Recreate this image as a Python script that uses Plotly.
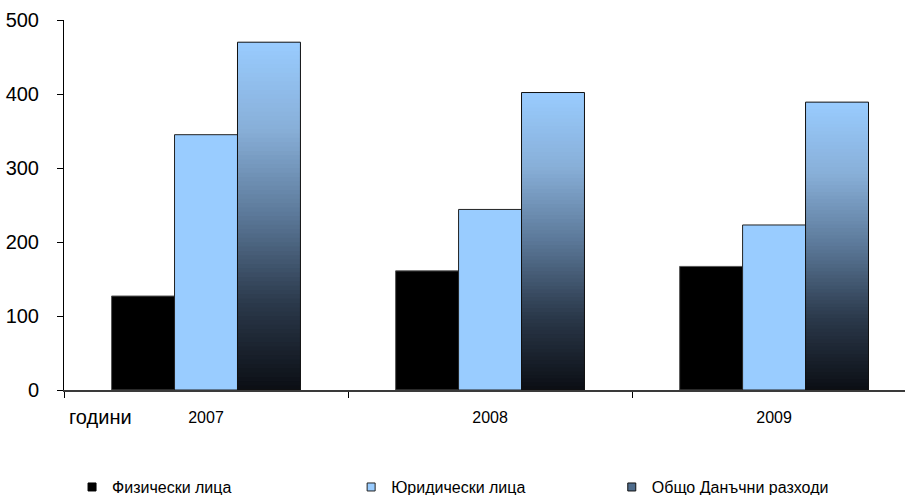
import plotly.graph_objects as go
from plotly.colors import sample_colorscale

# Data
years = ["2007", "2008", "2009"]
individuals = [127, 161, 167]       # Физически лица
companies = [345, 244, 223]         # Юридически лица
total = [470, 402, 389]             # Общо Данъчни разходи

series_names = ["Физически лица", "Юридически лица", "Общо Данъчни разходи"]
y_ticks = [0, 100, 200, 300, 400, 500]

FONT = "Liberation Sans, Arial, sans-serif"
LIGHT_BLUE = "#99CCFF"
GRAD_SCALE = [
    [0.0, "#0b0e14"],
    [0.25, "#2b394b"],
    [0.5, "#5b7898"],
    [0.75, "#88afd8"],
    [1.0, "#99CCFF"],
]
N_SEG = 80

fig = go.Figure()

fig.add_trace(go.Bar(
    x=years, y=individuals, offsetgroup="a", showlegend=False,
    marker=dict(color="#000000", line=dict(color="#555555", width=1)),
    hoverinfo="skip",
))
fig.add_trace(go.Bar(
    x=years, y=companies, offsetgroup="b", showlegend=False,
    marker=dict(color=LIGHT_BLUE, line=dict(color="#222222", width=1)),
    hoverinfo="skip",
))

# Vertical gradient for the total bars: overlapping stacked slices,
# each one twice as tall as its step so no seams show between them
seg_colors = sample_colorscale(GRAD_SCALE, [(i + 0.5) / N_SEG for i in range(N_SEG)])
for i in range(N_SEG):
    span = 2 if i < N_SEG - 1 else 1
    fig.add_trace(go.Bar(
        x=years,
        y=[v / N_SEG * span for v in total],
        base=[v * i / N_SEG for v in total],
        offsetgroup="c", showlegend=False,
        marker=dict(color=seg_colors[i], line=dict(width=0)),
        hoverinfo="skip",
    ))
# Outline on top of the gradient slices
fig.add_trace(go.Bar(
    x=years, y=total, base=[0, 0, 0], offsetgroup="c", showlegend=False,
    marker=dict(color="rgba(0,0,0,0)", line=dict(color="#111111", width=1)),
    hoverinfo="skip",
))

# Legend entries, each in its own legend box
legend_colors = ["#000000", LIGHT_BLUE, "#4f6c8c"]
legend_lines = ["#000000", "#222222", "#111111"]
legend_ids = ["legend", "legend2", "legend3"]
for name, col, lc, lid in zip(series_names, legend_colors, legend_lines, legend_ids):
    fig.add_trace(go.Scatter(
        x=[None], y=[None], mode="markers", name=name, legend=lid,
        marker=dict(symbol="square", size=8, color=col, line=dict(color=lc, width=1)),
    ))

legend_common = dict(
    orientation="h", yanchor="middle", xanchor="left",
    font=dict(family=FONT, size=16, color="#000000"),
    bgcolor="rgba(0,0,0,0)", itemwidth=30,
    xref="container", yref="container",
)
fig.update_layout(
    legend=dict(x=0.0796, y=0.016, **legend_common),
    legend2=dict(x=0.388, y=0.016, **legend_common),
    legend3=dict(x=0.676, y=0.016, **legend_common),
)

fig.update_layout(
    width=905, height=495,
    margin=dict(l=64, r=0, t=20, b=105, autoexpand=False),
    paper_bgcolor="white", plot_bgcolor="white",
    barmode="group", bargap=0.335, bargroupgap=0,
    font=dict(family=FONT, color="#000000"),
    xaxis=dict(
        type="category", range=[-0.5, 2.461], automargin=False,
        showline=True, linecolor="#3a3a3a", linewidth=2,
        ticks="outside", tickson="boundaries", ticklen=6, tickcolor="#000000",
        tickfont=dict(family=FONT, size=16, color="#000000"),
        ticklabelstandoff=12,
        showgrid=False, zeroline=False, fixedrange=True,
    ),
    yaxis=dict(
        range=[0, 500], tickvals=y_ticks, automargin=False,
        showline=True, linecolor="#000000", linewidth=1,
        ticks="outside", ticklen=6, tickcolor="#000000",
        tickfont=dict(family=FONT, size=20, color="#000000"),
        ticklabelstandoff=14,
        showgrid=False, zeroline=False, fixedrange=True,
    ),
    annotations=[dict(
        text="години", xref="paper", yref="paper", x=0, y=0,
        xanchor="left", yanchor="middle", xshift=3, yshift=-27,
        showarrow=False, font=dict(family=FONT, size=20, color="#000000"),
    )],
)

fig.write_html("out.html")
